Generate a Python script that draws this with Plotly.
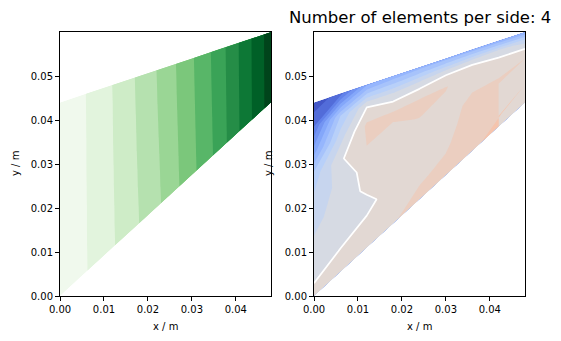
import plotly.graph_objects as go
from plotly.colors import sample_colorscale

# Cook's membrane outline (m): bottom-left, bottom-right, top-right, top-left
corner_x = [0.0, 0.048, 0.048, 0.0]
corner_y = [0.0, 0.044, 0.060, 0.044]

# parametric positions of the mesh nodes (4 quadratic elements per side)
xi_nodes = [0.0, 0.125, 0.25, 0.375, 0.5, 0.625, 0.75, 0.875, 1.0]
eta_nodes = [0.0, 0.125, 0.25, 0.375, 0.5, 0.625, 0.75, 0.875, 1.0]

# vertical displacement at the nodes, one list per node column (bottom -> top)
disp_cols = [
    [0.00, 0.00, 0.00, 0.00, 0.00, 0.00, 0.00, 0.00, 0.00],
    [0.96, 0.97, 0.98, 0.98, 0.99, 1.00, 1.00, 1.01, 1.02],
    [1.90, 1.92, 1.93, 1.95, 1.96, 1.98, 1.99, 2.00, 2.02],
    [3.00, 3.02, 3.05, 3.07, 3.10, 3.12, 3.14, 3.17, 3.19],
    [4.20, 4.23, 4.25, 4.28, 4.31, 4.34, 4.37, 4.39, 4.42],
    [5.72, 5.74, 5.76, 5.78, 5.80, 5.82, 5.84, 5.86, 5.88],
    [7.32, 7.33, 7.35, 7.36, 7.38, 7.39, 7.41, 7.42, 7.44],
    [9.41, 9.41, 9.42, 9.42, 9.43, 9.44, 9.44, 9.45, 9.45],
    [11.54, 11.54, 11.54, 11.54, 11.55, 11.55, 11.55, 11.55, 11.55],
]

# normalised stress at the nodes, one list per node column (bottom -> top)
stress_cols = [
    [0.027, -0.024, -0.076, -0.125, -0.178, -0.260, -0.550, -0.800, -0.970],
    [0.035, 0.002, -0.040, -0.060, -0.065, -0.015, -0.140, -0.300, -0.850],
    [0.060, 0.040, -0.030, 0.020, 0.040, 0.100, 0.120, -0.015, -0.520],
    [0.095, 0.070, 0.050, 0.040, 0.055, 0.090, 0.110, -0.070, -0.470],
    [0.125, 0.095, 0.075, 0.065, 0.070, 0.102, 0.110, -0.050, -0.450],
    [0.150, 0.110, 0.090, 0.080, 0.075, 0.085, 0.105, -0.020, -0.450],
    [0.190, 0.160, 0.140, 0.125, 0.115, 0.090, 0.045, -0.012, -0.460],
    [0.220, 0.195, 0.170, 0.140, 0.110, 0.090, 0.030, -0.040, -0.480],
    [0.270, 0.235, 0.200, 0.170, 0.135, 0.100, 0.015, -0.150, -0.500],
]

disp_levels = dict(start=1, end=11, size=1)
stress_levels = dict(start=-0.9, end=0.2, size=0.1)

x_ticks = [0.0, 0.01, 0.02, 0.03, 0.04]
y_ticks = [0.0, 0.01, 0.02, 0.03, 0.04, 0.05]

title_text = "Number of elements per side: 4"

# coolwarm anchor colours
coolwarm = [
    [0.0, "rgb(59,76,192)"], [0.125, "rgb(98,130,234)"],
    [0.25, "rgb(141,176,254)"], [0.375, "rgb(184,208,249)"],
    [0.5, "rgb(221,221,221)"], [0.625, "rgb(245,196,173)"],
    [0.75, "rgb(244,154,123)"], [0.875, "rgb(222,96,77)"],
    [1.0, "rgb(180,4,38)"],
]


def bilinear(c, s, t):
    return (c[0] * (1 - s) * (1 - t) + c[1] * s * (1 - t)
            + c[2] * s * t + c[3] * (1 - s) * t)


node_x = [[bilinear(corner_x, s, t) for s in xi_nodes] for t in eta_nodes]
node_y = [[bilinear(corner_y, s, t) for s in xi_nodes] for t in eta_nodes]


def to_rows(cols):
    return [[col[j] for col in cols] for j in range(len(eta_nodes))]


def band_scale(colors):
    n = len(colors) - 1
    return [[k / n, c] for k, c in enumerate(colors)]


# one colour per filled band (below start ... above end)
n_disp = round((disp_levels["end"] - disp_levels["start"]) / disp_levels["size"]) + 2
green_bands = sample_colorscale(
    "Greens", [0.05 + 0.95 * k / (n_disp - 1) for k in range(n_disp)])

n_str = round((stress_levels["end"] - stress_levels["start"]) / stress_levels["size"]) + 2
mids = [stress_levels["start"] - stress_levels["size"] / 2 + k * stress_levels["size"]
        for k in range(n_str)]
cw_bands = sample_colorscale(coolwarm, [0.5 + m / 2 for m in mids])

hidden_axis = dict(showgrid=False, showline=False, showticklabels="none",
                   startline=False, endline=False, minorgridcount=0,
                   smoothing=0, tickmode="array", tickvals=[])

fig = go.Figure()

for cid, xa, ya in (("left", "x", "y"), ("right", "x2", "y2")):
    fig.add_trace(go.Carpet(
        carpet=cid, a=xi_nodes, b=eta_nodes, x=node_x, y=node_y,
        aaxis=hidden_axis, baxis=hidden_axis, xaxis=xa, yaxis=ya,
    ))

fig.add_trace(go.Contourcarpet(
    carpet="left", a=xi_nodes, b=eta_nodes, z=to_rows(disp_cols),
    autocontour=False,
    contours=dict(coloring="fill", showlines=False, **disp_levels),
    colorscale=band_scale(green_bands), showscale=False,
    line=dict(width=0, smoothing=0), xaxis="x", yaxis="y",
))

fig.add_trace(go.Contourcarpet(
    carpet="right", a=xi_nodes, b=eta_nodes, z=to_rows(stress_cols),
    autocontour=False,
    contours=dict(coloring="fill", showlines=False, **stress_levels),
    colorscale=band_scale(cw_bands), showscale=False,
    line=dict(width=0, smoothing=0), xaxis="x2", yaxis="y2",
))

# zero-stress contour
fig.add_trace(go.Contourcarpet(
    carpet="right", a=xi_nodes, b=eta_nodes, z=to_rows(stress_cols),
    autocontour=False,
    contours=dict(coloring="none", showlines=True, start=0, end=0, size=1),
    line=dict(color="white", width=1.7, smoothing=0), showscale=False,
    xaxis="x2", yaxis="y2",
))

W, H = 561, 341
font = dict(family="DejaVu Sans", size=10, color="black")
ax = dict(showline=True, mirror=True, linecolor="black", linewidth=1,
          ticks="outside", ticklen=4, tickwidth=1, tickcolor="black",
          showgrid=False, zeroline=False, tickfont=font, tickformat=".2f",
          fixedrange=True, automargin=False)

ax_left, ax_right, ax_bottom, ax_top = (60, 271), (314, 525), 296, 32

fig.update_layout(
    width=W, height=H,
    margin=dict(l=0, r=0, t=0, b=0, pad=0, autoexpand=False),
    paper_bgcolor="white", plot_bgcolor="white", showlegend=False,
    xaxis=dict(ax, domain=[ax_left[0] / W, ax_left[1] / W], range=[0, 0.048],
               tickvals=x_ticks, anchor="y"),
    yaxis=dict(ax, domain=[1 - ax_bottom / H, 1 - ax_top / H], range=[0, 0.06],
               tickvals=y_ticks, anchor="x"),
    xaxis2=dict(ax, domain=[ax_right[0] / W, ax_right[1] / W], range=[0, 0.048],
                tickvals=x_ticks, anchor="y2"),
    yaxis2=dict(ax, domain=[1 - ax_bottom / H, 1 - ax_top / H], range=[0, 0.06],
                tickvals=y_ticks, anchor="x2"),
)

labels = [
    dict(text="x / m", x=sum(ax_left) / 2 / W, y=1 - 326 / H),
    dict(text="x / m", x=sum(ax_right) / 2 / W, y=1 - 326 / H),
    dict(text="y / m", x=15 / W, y=1 - 164 / H, textangle=-90),
    dict(text="y / m", x=268 / W, y=1 - 164 / H, textangle=-90),
]
for lab in labels:
    fig.add_annotation(xref="paper", yref="paper", showarrow=False,
                       xanchor="center", yanchor="middle", font=font, **lab)

fig.add_annotation(text=title_text, xref="paper", yref="paper",
                   x=sum(ax_right) / 2 / W, y=1 - 18 / H, showarrow=False,
                   xanchor="center", yanchor="middle",
                   font=dict(family="DejaVu Sans", size=16.5, color="black"))

fig.write_html("out.html")
